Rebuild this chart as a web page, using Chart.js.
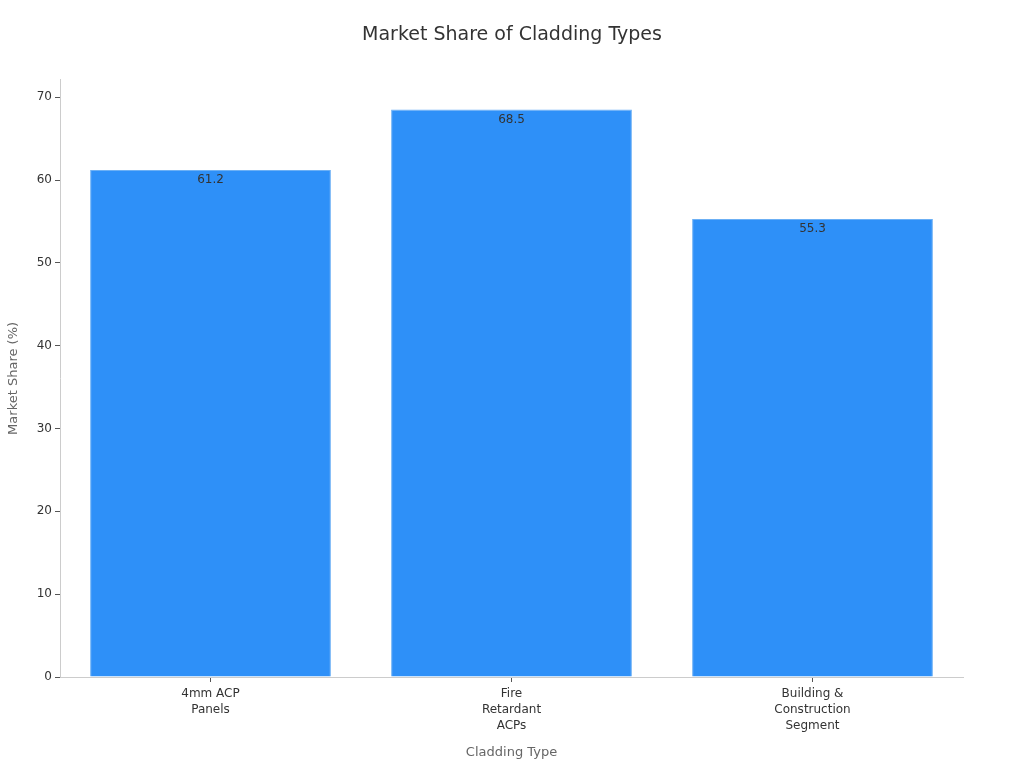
<!DOCTYPE html>
<html>
<head>
<meta charset="utf-8">
<script src="https://cdn.jsdelivr.net/npm/chart.js@4/dist/chart.umd.min.js"></script>
<style>
  html, body { margin: 0; padding: 0; background: #fff; }
  #wrap { width: 1024px; height: 768px; }
</style>
</head>
<body>
<div id="wrap"><canvas id="barChart" width="1024" height="768"></canvas></div>
<script>
const categories = [["4mm ACP", "Panels"], ["Fire", "Retardant", "ACPs"], ["Building &", "Construction", "Segment"]];
const shareValues = [61.2, 68.5, 55.3];
const yTicks = [0, 10, 20, 30, 40, 50, 60, 70];

// labels drawn just inside the top of each bar
const valueLabels = {
  id: "valueLabels",
  afterDatasetsDraw(chart) {
    const ctx = chart.ctx;
    const meta = chart.getDatasetMeta(0);
    ctx.save();
    ctx.font = "12px 'DejaVu Sans'";
    ctx.fillStyle = "#333333";
    ctx.textAlign = "center";
    ctx.textBaseline = "middle";
    meta.data.forEach((bar, i) => {
      ctx.fillText(shareValues[i].toFixed(1), bar.x, bar.y + 10);
    });
    ctx.restore();
  }
};

const dataBar = {
  labels: categories,
  datasets: [{
    label: "Market Share (%)",
    data: shareValues,
    backgroundColor: "#2e90f8",
    borderColor: "#6cb0f5",
    borderWidth: 1,
    barPercentage: 0.8,
    categoryPercentage: 1.0,
  }],
};

const configBar = {
  type: "bar",
  data: dataBar,
  options: {
    responsive: false,
    animation: false,
    layout: { padding: { top: 0, right: 0, left: 0, bottom: 8 } },
    plugins: {
      legend: { display: false },
      tooltip: { enabled: false },
      title: {
        display: true,
        text: "Market Share of Cladding Types",
        color: "#333333",
        font: { family: "'DejaVu Sans'", size: 19, weight: "normal" },
        padding: { top: 24, bottom: 33 },
      },
    },
    scales: {
      x: {
        grid: { display: true, offset: false, drawOnChartArea: false, drawTicks: true, tickLength: 5, tickColor: "#555555" },
        border: { color: "#cccccc" },
        ticks: { color: "#333333", font: { family: "'DejaVu Sans'", size: 12, lineHeight: 1.33 }, maxRotation: 0, padding: 4 },
        title: {
          display: true,
          text: "Cladding Type",
          color: "#666666",
          font: { family: "'DejaVu Sans'", size: 13 },
          padding: { top: 10, bottom: 0 },
        },
        afterFit(axis) { axis.height = 83; },
      },
      y: {
        min: 0,
        max: 72.1,
        afterBuildTicks(axis) { axis.ticks = yTicks.map(v => ({ value: v })); },
        grid: { display: true, drawOnChartArea: false, drawTicks: true, tickLength: 5, tickColor: "#555555" },
        border: { color: "#cccccc" },
        ticks: { color: "#333333", font: { family: "'DejaVu Sans'", size: 12 }, padding: 3 },
        title: {
          display: true,
          text: "Market Share (%)",
          color: "#666666",
          font: { family: "'DejaVu Sans'", size: 13 },
          padding: { top: 6, bottom: 4 },
        },
        afterFit(axis) { axis.width = 60; },
      },
      // empty right axis keeps the right margin while the title stays centred on the page
      yRight: {
        position: "right",
        display: true,
        grid: { display: false },
        border: { display: false },
        ticks: { display: false },
        afterFit(axis) { axis.width = 61; },
      },
    },
  },
  plugins: [valueLabels],
};

const barChart = new Chart(document.getElementById("barChart"), configBar);
</script>
</body>
</html>
